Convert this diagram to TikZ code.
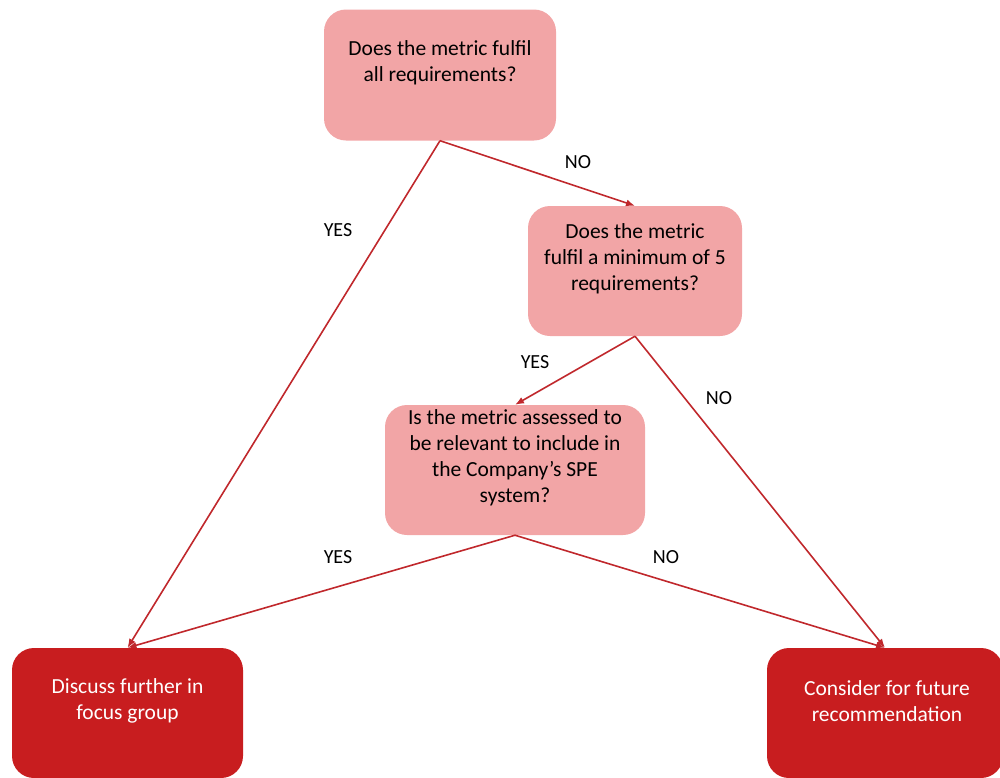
\documentclass[tikz,border=0pt]{standalone}
\usepackage{fontspec}
\setmainfont{Carlito}
\usetikzlibrary{arrows.meta}
\definecolor{qpink}{HTML}{F2A5A6}
\definecolor{qred}{HTML}{C81D1F}
\definecolor{qline}{HTML}{C0282C}
\tikzset{
  question/.style={draw=none, fill=qpink, rounded corners=22pt, inner sep=0pt},
  outcome/.style={draw=none, fill=qred, rounded corners=22pt, inner sep=0pt},
  qtext/.style={align=center, font=\fontsize{21.5}{26}\selectfont, text=black, inner sep=0pt},
  otext/.style={align=center, font=\fontsize{21.5}{26}\selectfont, text=white, inner sep=0pt},
  lbl/.style={font=\fontsize{20}{24}\selectfont, text=black, inner sep=0pt},
  flow/.style={draw=qline, line width=1.6pt, -{Latex[length=9pt,width=7pt]}}
}
\begin{document}
\begin{tikzpicture}[x=1pt,y=-1pt]
\useasboundingbox (0,0) rectangle (1000,777);
\clip (0,0) rectangle (1000,777);

% decision boxes
\node[question, minimum width=232pt, minimum height=131pt] (q1) at (440,75) {};
\node[qtext] (t1) at (440,63) {Does the metric fulfil\\all requirements?};

\node[question, minimum width=214pt, minimum height=130pt] (q2) at (635,271) {};
\node[qtext] (t2) at (635,259) {Does the metric\\fulfil a minimum of 5\\requirements?};

\node[question, minimum width=260pt, minimum height=130pt] (q3) at (515,470) {};
\node[qtext] (t3) at (515,458) {Is the metric assessed to\\be relevant to include in\\the Company’s SPE\\system?};

% outcome boxes
\node[outcome, minimum width=231pt, minimum height=130pt] (o1) at (127.5,713) {};
\node[otext] (u1) at (127.5,701) {Discuss further in\\focus group};

\node[outcome, minimum width=236pt, minimum height=130pt] (o2) at (885,713) {};
\node[otext] (u2) at (887,701) {Consider for future\\recommendation};

% connectors
\draw[flow] (q1.south) -- (q2.north);
\draw[flow] (q1.south) -- (o1.north);
\draw[flow] (q2.south) -- (q3.north);
\draw[flow] (q2.south) -- (o2.north);
\draw[flow] (q3.south) -- (o1.north);
\draw[flow] (q3.south) -- (o2.north);

% connector labels
\node[lbl] (l1) at (578,162) {NO};
\node[lbl] (l2) at (338,230) {YES};
\node[lbl] (l3) at (535,362) {YES};
\node[lbl] (l4) at (719,398) {NO};
\node[lbl] (l5) at (338,557) {YES};
\node[lbl] (l6) at (666,557) {NO};
\end{tikzpicture}
\end{document}
